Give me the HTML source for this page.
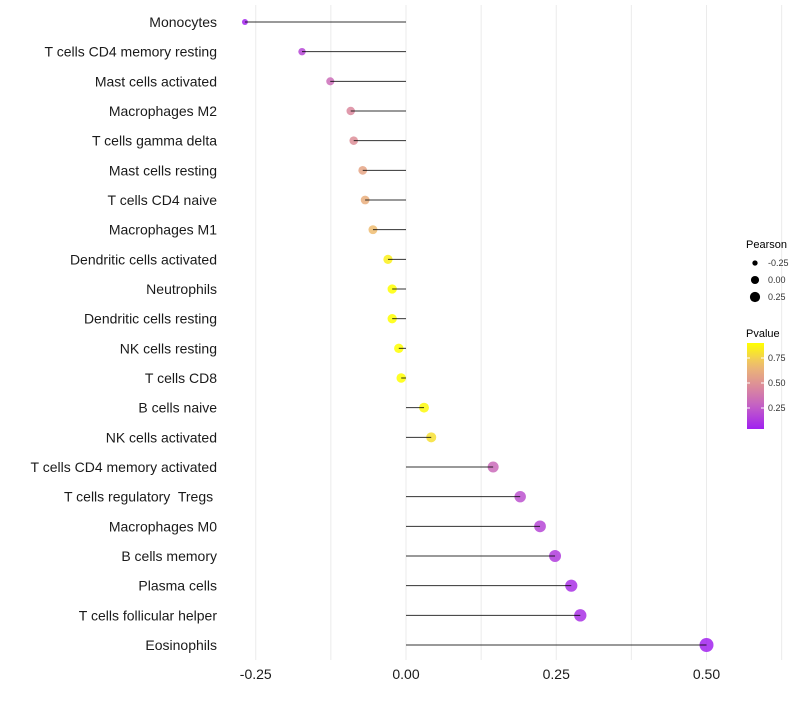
<!DOCTYPE html>
<html><head><meta charset="utf-8"><style>
body{margin:0;background:#fff;font-family:"Liberation Sans",sans-serif}
text{white-space:pre}
</style></head><body>
<svg id="c" width="800" height="700" xmlns="http://www.w3.org/2000/svg" font-family="Liberation Sans, sans-serif"></svg>
<script>
const categories=["Monocytes","T cells CD4 memory resting","Mast cells activated","Macrophages M2","T cells gamma delta","Mast cells resting","T cells CD4 naive","Macrophages M1","Dendritic cells activated","Neutrophils","Dendritic cells resting","NK cells resting","T cells CD8","B cells naive","NK cells activated","T cells CD4 memory activated","T cells regulatory  Tregs ","Macrophages M0","B cells memory","Plasma cells","T cells follicular helper","Eosinophils"];
</script>
<script>
const pearson=[-0.268,-0.173,-0.126,-0.092,-0.087,-0.072,-0.068,-0.055,-0.030,-0.023,-0.023,-0.012,-0.008,0.030,0.042,0.145,0.190,0.223,0.248,0.275,0.290,0.500];
const pvalue=[0.05,0.18,0.33,0.45,0.48,0.58,0.62,0.68,0.85,0.9,0.9,0.95,0.97,0.88,0.8,0.32,0.22,0.18,0.14,0.1,0.1,0.05];
const xTicks=[-0.25,0,0.25,0.5];
const xTickLabels=["-0.25","0.00","0.25","0.50"];
const sizeLegend=[-0.25,0,0.25];
const colorTicks=[0.25,0.5,0.75];
</script>
<script>
const svg=document.getElementById('c');const NS='http://www.w3.org/2000/svg';
function mk(t,a,p){const e=document.createElementNS(NS,t);for(const k in a)e.setAttribute(k,a[k]);(p||svg).appendChild(e);return e;}
const x=v=>406+v*601;
const y=i=>22+i*(645-22)/(categories.length-1);
const r=v=>Math.sqrt(Math.max(4,22.8+v*52.4));
const stops=[[0,[160,32,240]],[0.25,[194,92,200]],[0.5,[220,140,154]],[0.75,[238,189,112]],[1,[255,255,0]]];
function col(p){const t=Math.max(0,Math.min(1,(p-0.04)/(0.9-0.04)));for(let k=1;k<stops.length;k++){if(t<=stops[k][0]){const a=stops[k-1],b=stops[k],f=(t-a[0])/(b[0]-a[0]);return 'rgb('+a[1].map((c,j)=>Math.round(c+(b[1][j]-c)*f)).join(',')+')';}}return 'rgb(255,255,0)';}
for(let v=-0.25;v<=0.626;v+=0.125){const g=mk('line',{x1:x(v),x2:x(v),y1:5,y2:660,stroke:'#ebebeb','stroke-width':1});

}
categories.forEach((c,i)=>{
const t=mk('text',{x:217,y:y(i)+5,'text-anchor':'end','font-size':14,fill:'#1a1a1a'});t.textContent=c;


const d=mk('circle',{cx:x(pearson[i]),cy:y(i),r:r(pearson[i]),fill:col(pvalue[i]),'fill-opacity':0.85});


const l=mk('line',{x1:x(0),x2:x(pearson[i]),y1:y(i),y2:y(i),stroke:'#000','stroke-width':1,'stroke-opacity':0.8});


});
xTicks.forEach((v,i)=>{const t=mk('text',{x:x(v),y:679,'text-anchor':'middle','font-size':14,fill:'#1a1a1a'});t.textContent=xTickLabels[i];

});
const lt=mk('text',{x:746,y:248,'font-size':11,fill:'#000'});lt.textContent='Pearson';


sizeLegend.forEach((v,i)=>{const cy=263+i*17;const c=mk('circle',{cx:755,cy:cy,r:r(v)*0.85,fill:'#000'});


const t=mk('text',{x:768,y:cy+3,'font-size':9,fill:'#333'});t.textContent=v.toFixed(2);

});
const pt=mk('text',{x:746,y:337,'font-size':11,fill:'#000'});pt.textContent='Pvalue';


const defs=mk('defs',{});const lg=mk('linearGradient',{id:'g',x1:0,y1:1,x2:0,y2:0},defs);
for(let k=0;k<=10;k++){mk('stop',{offset:k/10,'stop-color':col(0.04+k/10*0.86)},lg);}
const cb=mk('rect',{x:747,y:343,width:17,height:86,fill:'url(#g)'});


const cy=v=>429-(v-0.04)/(0.9-0.04)*86;
colorTicks.forEach(v=>{mk('line',{x1:747,x2:750,y1:cy(v),y2:cy(v),stroke:'#fff'});mk('line',{x1:761,x2:764,y1:cy(v),y2:cy(v),stroke:'#fff'});
const t=mk('text',{x:768,y:cy(v)+3,'font-size':9,fill:'#333'});t.textContent=v.toFixed(2);

});
</script>
</body></html>
